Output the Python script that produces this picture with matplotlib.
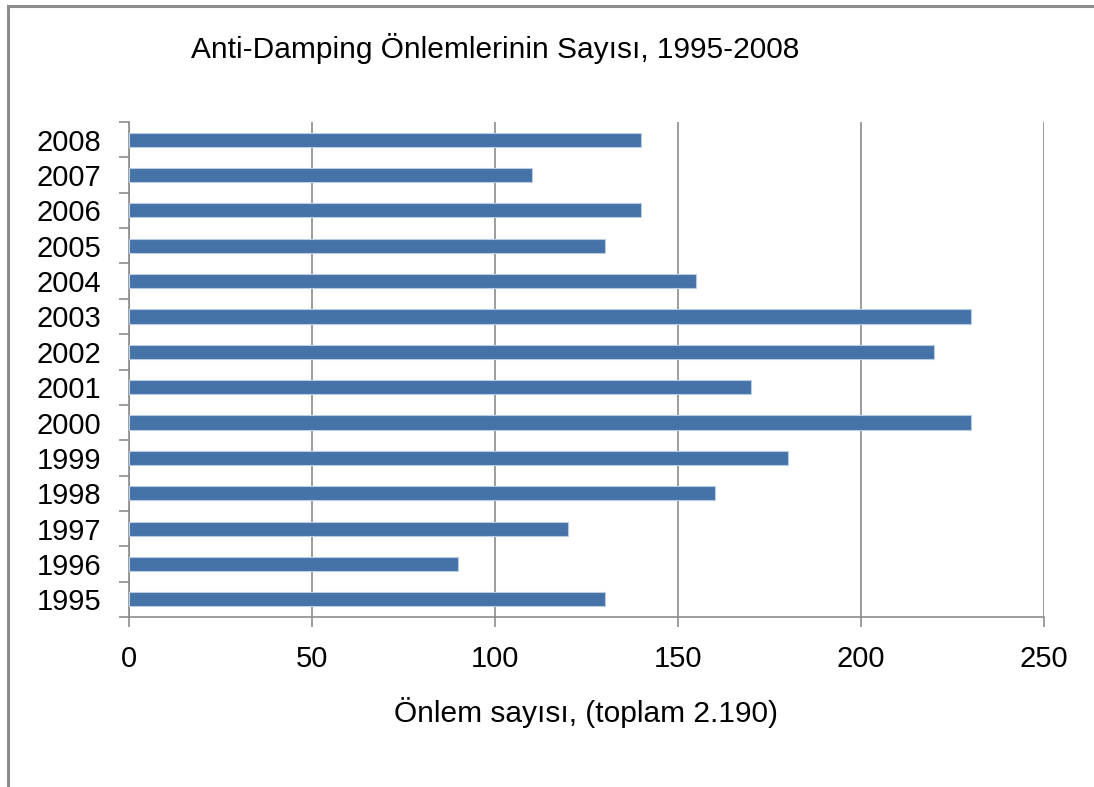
import matplotlib.pyplot as plt
from matplotlib.lines import Line2D

# data
years = ["1995", "1996", "1997", "1998", "1999", "2000", "2001",
         "2002", "2003", "2004", "2005", "2006", "2007", "2008"]
counts = [130, 90, 120, 160, 180, 230, 170, 220, 230, 155, 130, 140, 110, 140]
x_ticks = [0, 50, 100, 150, 200, 250]

title = "Anti-Damping Önlemlerinin Sayısı, 1995-2008"
xlabel = "Önlem sayısı, (toplam 2.190)"

plt.rcParams['font.family'] = ['Liberation Sans', 'DejaVu Sans']

bar_color = "#4572A7"
grid_color = "#8c8c8c"

fig = plt.figure(figsize=(10.94, 7.87), dpi=100)
ax = fig.add_axes([129 / 1094, 1 - 617 / 787, 915 / 1094, 495 / 787])

pos = list(range(len(years)))
ax.barh(pos, counts, height=0.4, color=bar_color, edgecolor="#b9cde5",
        linewidth=0.8, zorder=3)

ax.set_xlim(0, 250)
ax.set_ylim(-0.5, len(years) - 0.5)
ax.set_xticks(x_ticks)
ax.set_xticklabels([str(t) for t in x_ticks])
ax.set_yticks(pos)
ax.set_yticklabels(years)
ax.set_yticks([p - 0.5 for p in range(len(years) + 1)], minor=True)

ax.tick_params(axis='y', which='major', length=0, pad=20, labelsize=21)
ax.tick_params(axis='y', which='minor', length=7, width=1.2, color=grid_color,
               direction='out')
ax.tick_params(axis='x', which='major', length=7, width=1.2, color=grid_color,
               direction='out', pad=13, labelsize=21)

ax.grid(axis='x', color=grid_color, linewidth=1.2, zorder=0)
for side in ['top', 'right']:
    ax.spines[side].set_visible(False)
for side in ['left', 'bottom']:
    ax.spines[side].set_color(grid_color)
    ax.spines[side].set_linewidth(1.2)

fig.text(495 / 1094, 1 - 49 / 787, title, ha='center', va='center',
         fontsize=21.5)
fig.text(586 / 1094, 1 - 712 / 787, xlabel, ha='center', va='center',
         fontsize=21.5)

# outer frame (only top and left visible in the crop)
fig.add_artist(Line2D([8 / 1094, 1.0], [1 - 6 / 787, 1 - 6 / 787],
                      color="#8c8c8c", linewidth=2.2))
fig.add_artist(Line2D([8 / 1094, 8 / 1094], [0.0, 1 - 6 / 787],
                      color="#8c8c8c", linewidth=2.2))

fig.savefig("out.png", dpi=100)
